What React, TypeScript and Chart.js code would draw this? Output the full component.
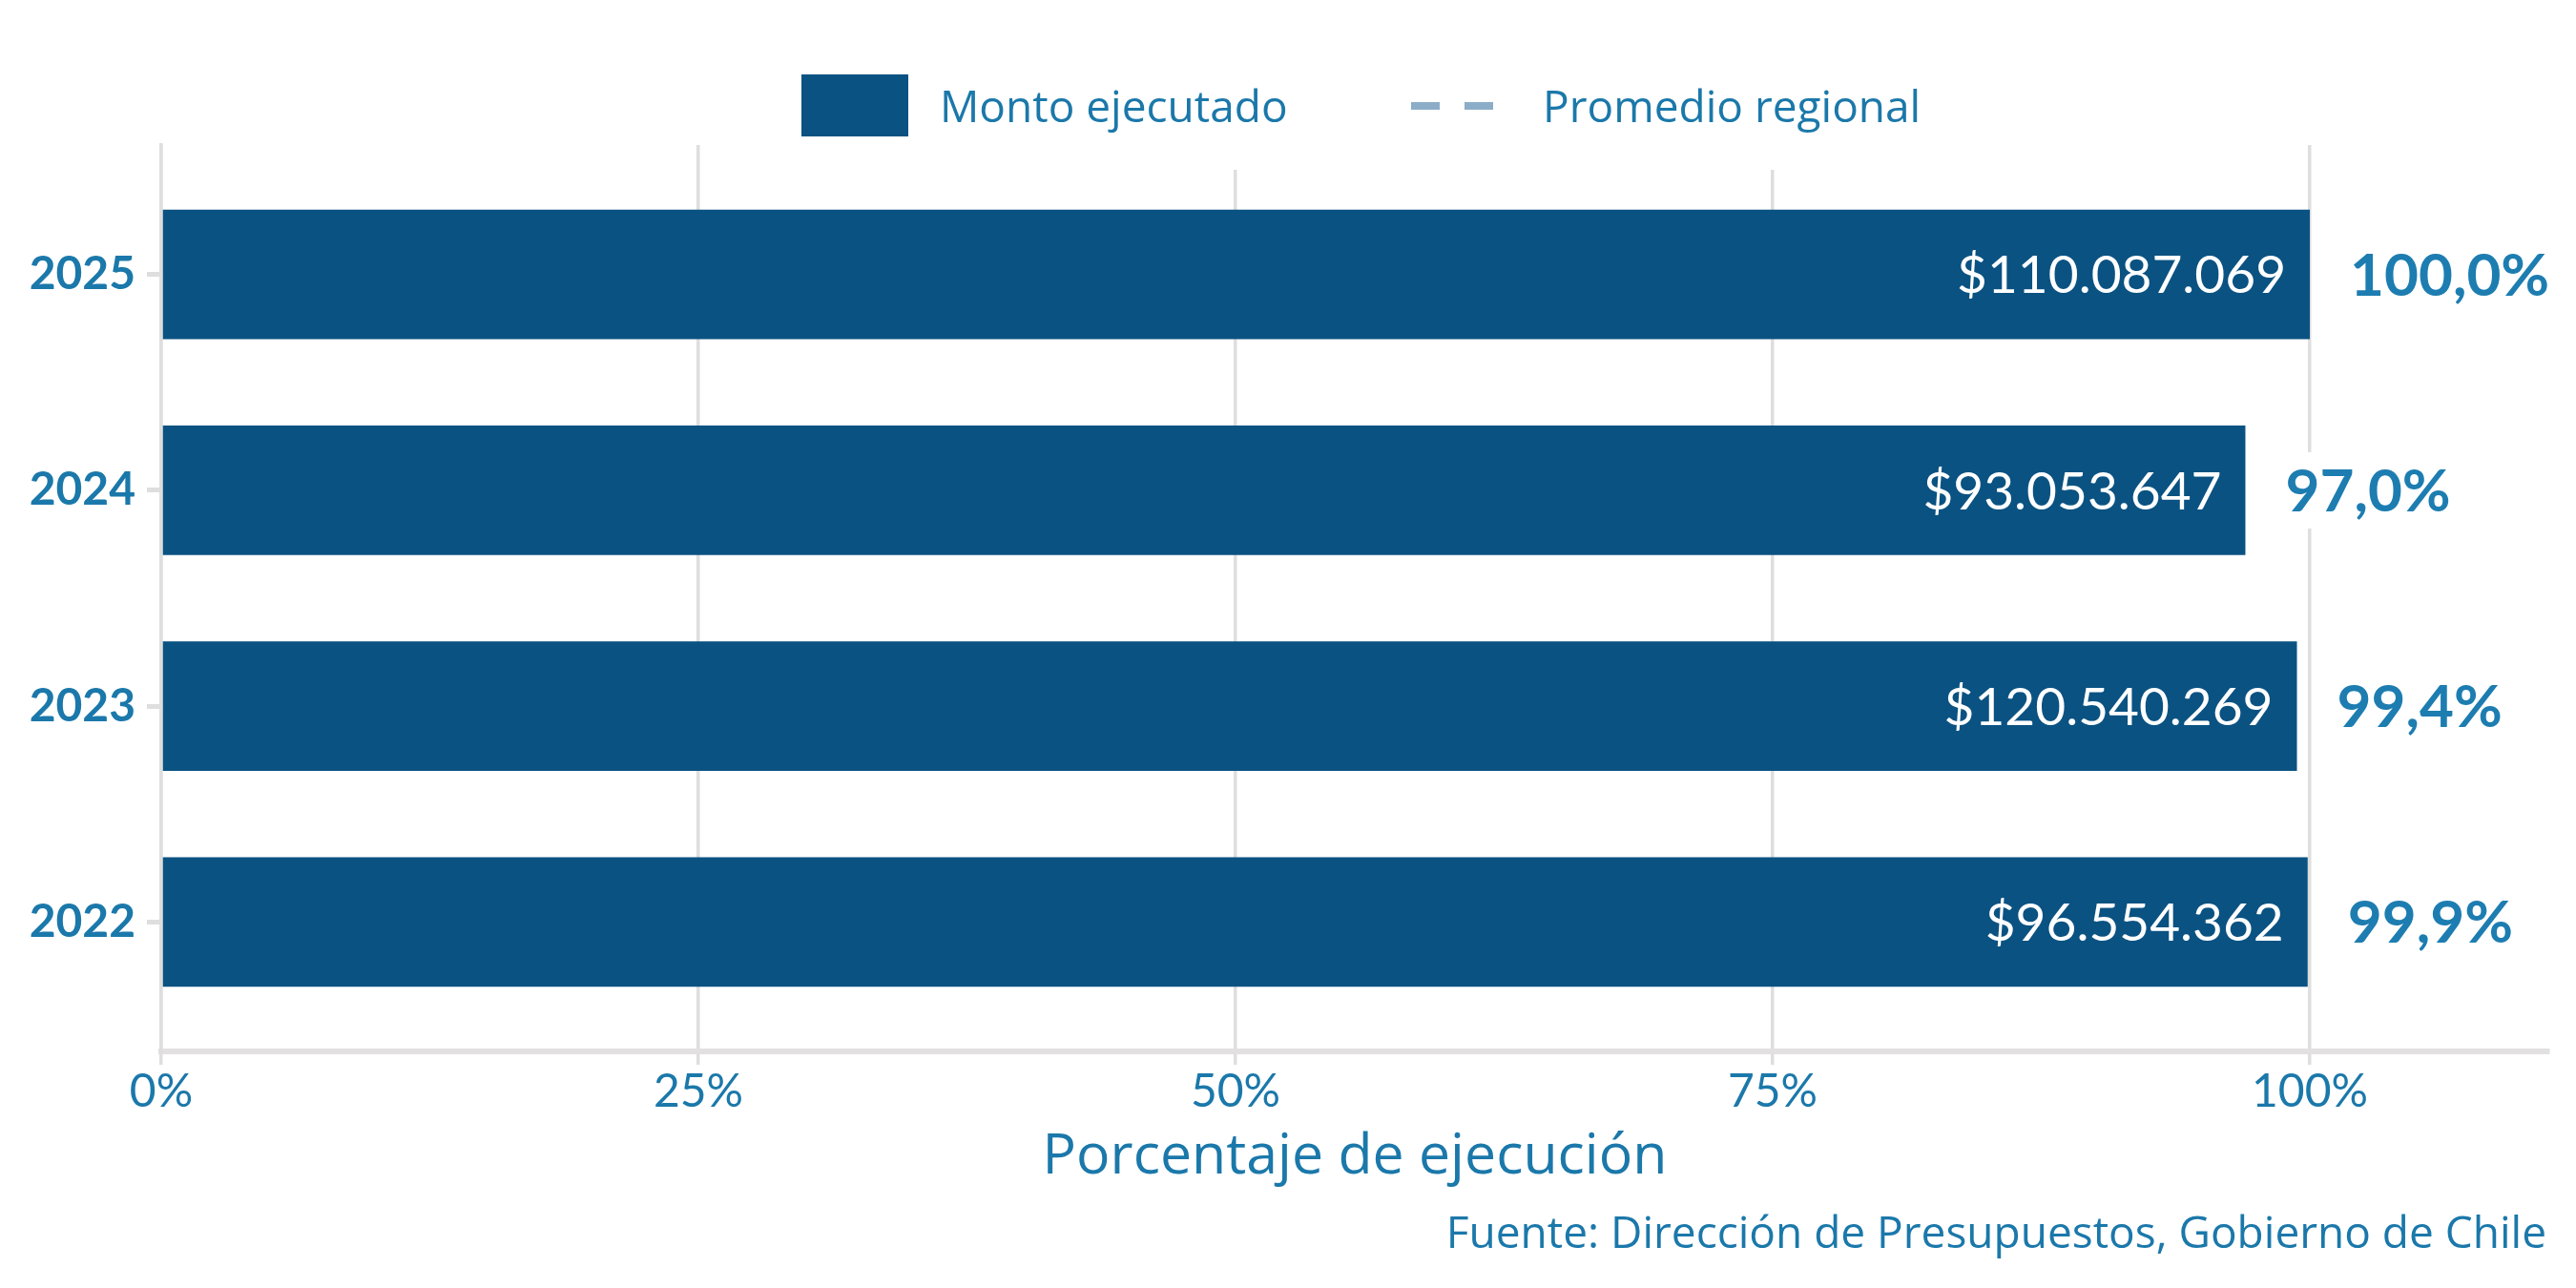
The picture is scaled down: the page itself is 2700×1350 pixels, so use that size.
import React, { useEffect, useRef } from "react";
import { Chart, registerables } from "chart.js";

Chart.register(...registerables);

const years = ["2022", "2023", "2024", "2025"];
const executionPct = [99.9, 99.4, 97.0, 100.0];
const executedAmount = [96554362, 120540269, 93053647, 110087069];
const xTickValues = [0, 25, 50, 75, 100];
const legendLabels = ["Monto ejecutado", "Promedio regional"];
const axisTitle = "Porcentaje de ejecución";
const caption = "Fuente: Dirección de Presupuestos, Gobierno de Chile";

const FONT = "Lato, 'Open Sans', sans-serif";
const WFONT = "'Open Sans', Lato, sans-serif";
const BAR = "#0A5282";
const TEXT = "#1B78AA";
const PCT = "#1D7DB1";
const GRID = "#DEDEDE";
const AVG = "#8CADC7";

const fmtMoney = (n: number) =>
  "$" + String(n).replace(/\B(?=(\d{3})+(?!\d))/g, ".");
const fmtPct = (v: number) => v.toFixed(1).replace(".", ",") + "%";

const decorPlugin = {
  id: "decor",
  afterDatasetsDraw(chart: any) {
    const ctx = chart.ctx;
    const meta = chart.getDatasetMeta(0);
    ctx.save();
    meta.data.forEach((el: any, i: number) => {
      ctx.font = `400 55px ${FONT}`;
      ctx.fillStyle = "#FFFFFF";
      ctx.textAlign = "right";
      ctx.textBaseline = "middle";
      ctx.fillText(fmtMoney(executedAmount[i]), el.x - 25, el.y + 2);
      const t = fmtPct(executionPct[i]);
      ctx.font = `700 62px ${FONT}`;
      const w = ctx.measureText(t).width;
      const lx = el.x + 42;
      ctx.fillStyle = "#FFFFFF";
      ctx.fillRect(lx - 14, el.y - 40, w + 28, 80);
      ctx.fillStyle = PCT;
      ctx.textAlign = "left";
      ctx.fillText(t, lx, el.y + 2);
    });
    ctx.restore();
  },
  afterDraw(chart: any) {
    const ctx = chart.ctx;
    const ca = chart.chartArea;
    ctx.save();
    ctx.fillStyle = "#FFFFFF";
    ctx.fillRect(825, 140, 1200, 38);
    ctx.fillStyle = BAR;
    ctx.fillRect(840, 78, 112, 65);
    ctx.font = `400 46px ${WFONT}`;
    ctx.fillStyle = TEXT;
    ctx.textAlign = "left";
    ctx.textBaseline = "alphabetic";
    ctx.fillText(legendLabels[0], 985, 128);
    ctx.strokeStyle = AVG;
    ctx.lineWidth = 8;
    ctx.setLineDash([30, 26]);
    ctx.beginPath();
    ctx.moveTo(1479, 111);
    ctx.lineTo(1566, 111);
    ctx.stroke();
    ctx.setLineDash([]);
    ctx.fillText(legendLabels[1], 1617, 128);
    ctx.font = `400 59px ${WFONT}`;
    ctx.textAlign = "center";
    ctx.fillText(axisTitle, (ca.left + ca.right) / 2, 1230);
    ctx.font = `400 46px ${WFONT}`;
    ctx.textAlign = "right";
    ctx.fillText(caption, 2669, 1308);
    ctx.restore();
  },
};

export default function App() {
  const ref = useRef<HTMLCanvasElement | null>(null);
  useEffect(() => {
    document.body.style.margin = "0";
    const c = ref.current;
    if (!c) return;
    const chart = new Chart(c, {
      type: "bar",
      data: {
        datasets: [
          {
            label: legendLabels[0],
            data: executionPct.map((v, i) => ({ x: v, y: i })) as any,
            backgroundColor: BAR,
            borderWidth: 0,
            categoryPercentage: 1,
            barPercentage: 0.6,
          },
        ],
      },
      options: {
        animation: false,
        responsive: true,
        maintainAspectRatio: false,
        indexAxis: "y",
        layout: { padding: { left: 0, right: 29, top: 152, bottom: 0 } },
        plugins: {
          legend: { display: false },
          tooltip: { enabled: false },
          title: { display: false },
        },
        scales: {
          x: {
            type: "linear",
            min: 0,
            max: 111.1,
            afterBuildTicks: (axis: any) => {
              axis.ticks = xTickValues.map((v) => ({ value: v }));
            },
            afterFit: (s: any) => {
              s.height = 248;
            },
            ticks: {
              callback: (v: any) => v + "%",
              color: TEXT,
              font: { family: FONT, size: 48, weight: "400" },
              padding: 0,
              maxRotation: 0,
            },
            grid: {
              color: GRID,
              lineWidth: 3.5,
              drawTicks: true,
              tickLength: 14,
            },
            border: { display: true, color: "#E2E0E0", width: 6 },
          },
          y: {
            type: "linear",
            min: -0.6,
            max: 3.6,
            offset: false,
            afterBuildTicks: (axis: any) => {
              axis.ticks = years.map((_, i) => ({ value: i }));
            },
            afterFit: (s: any) => {
              s.width = 169;
            },
            ticks: {
              callback: (v: any) => years[v] ?? "",
              color: TEXT,
              font: { family: FONT, size: 48, weight: "700" },
              padding: 12,
            },
            grid: {
              offset: false,
              color: GRID,
              lineWidth: 5,
              drawOnChartArea: false,
              drawTicks: true,
              tickLength: 15,
            },
            border: { display: true, color: GRID, width: 3.5 },
          },
        },
      } as any,
      plugins: [decorPlugin],
    });
    return () => chart.destroy();
  }, []);
  return (
    <div style={{ width: 2700, height: 1350, position: "relative", background: "#fff" }}>
      <canvas ref={ref} />
    </div>
  );
}
